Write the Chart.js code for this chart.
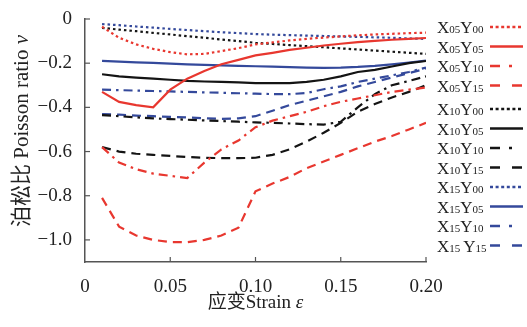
<!DOCTYPE html>
<html>
<head>
<meta charset="utf-8">
<script src="https://cdn.jsdelivr.net/npm/chart.js@4/dist/chart.umd.min.js"></script>
<style>
  body { margin: 0; background: #fff; }
</style>
</head>
<body>
<canvas id="chart" width="527" height="327"></canvas>
<script>
// data
const strain = [0.01, 0.02, 0.03, 0.04, 0.05, 0.06, 0.07, 0.08, 0.09, 0.10,
                0.11, 0.12, 0.13, 0.14, 0.15, 0.16, 0.17, 0.18, 0.19, 0.20];

const seriesNames = ["X05Y00", "X05Y05", "X05Y10", "X05Y15",
                     "X10Y00", "X10Y05", "X10Y10", "X10Y15",
                     "X15Y00", "X15Y05", "X15Y10", "X15 Y15"];

const x05y00 = [-0.035, -0.085, -0.115, -0.135, -0.15, -0.16, -0.158, -0.145, -0.132, -0.115,
                -0.106, -0.097, -0.09, -0.084, -0.079, -0.074, -0.07, -0.067, -0.064, -0.062];
const x05y05 = [-0.33, -0.375, -0.39, -0.40, -0.32, -0.27, -0.235, -0.205, -0.185, -0.165,
                -0.153, -0.14, -0.13, -0.12, -0.112, -0.105, -0.099, -0.094, -0.09, -0.086];
const x05y10 = [-0.58, -0.65, -0.68, -0.70, -0.71, -0.72, -0.65, -0.59, -0.55, -0.49,
                -0.46, -0.44, -0.42, -0.395, -0.375, -0.36, -0.345, -0.33, -0.32, -0.31];
const x05y15 = [-0.81, -0.94, -0.98, -1.00, -1.01, -1.01, -1.00, -0.98, -0.945, -0.78,
                -0.745, -0.715, -0.675, -0.645, -0.615, -0.585, -0.555, -0.53, -0.50, -0.47];

const x10y00 = [-0.04, -0.048, -0.055, -0.063, -0.07, -0.078, -0.085, -0.093, -0.10, -0.108,
                -0.113, -0.118, -0.123, -0.128, -0.133, -0.138, -0.143, -0.148, -0.153, -0.158];
const x10y05 = [-0.25, -0.26, -0.265, -0.27, -0.275, -0.28, -0.283, -0.285, -0.287, -0.29,
                -0.29, -0.29, -0.285, -0.275, -0.26, -0.24, -0.23, -0.215, -0.20, -0.19];
const x10y10 = [-0.435, -0.44, -0.445, -0.45, -0.453, -0.456, -0.459, -0.462, -0.465, -0.468,
                -0.47, -0.473, -0.476, -0.478, -0.465, -0.40, -0.34, -0.30, -0.28, -0.26];
const x10y15 = [-0.58, -0.60, -0.61, -0.615, -0.62, -0.625, -0.628, -0.63, -0.63, -0.628,
                -0.615, -0.59, -0.555, -0.515, -0.47, -0.42, -0.385, -0.355, -0.33, -0.30];

const x15y00 = [-0.023, -0.028, -0.034, -0.039, -0.045, -0.05, -0.055, -0.06, -0.064, -0.068,
                -0.071, -0.073, -0.075, -0.077, -0.079, -0.081, -0.083, -0.085, -0.088, -0.09];
const x15y05 = [-0.19, -0.193, -0.196, -0.199, -0.202, -0.205, -0.208, -0.21, -0.212, -0.214,
                -0.216, -0.218, -0.22, -0.221, -0.22, -0.217, -0.212, -0.205, -0.197, -0.188];
const x15y10 = [-0.32, -0.322, -0.324, -0.326, -0.328, -0.33, -0.332, -0.334, -0.336, -0.338,
                -0.34, -0.34, -0.335, -0.318, -0.305, -0.285, -0.27, -0.255, -0.24, -0.22];
const x15y15 = [-0.43, -0.433, -0.437, -0.44, -0.443, -0.446, -0.449, -0.452, -0.45, -0.44,
                -0.415, -0.39, -0.37, -0.35, -0.33, -0.305, -0.285, -0.265, -0.245, -0.225];

const xTicks = [0, 0.05, 0.10, 0.15, 0.20];
const yTicks = [0, -0.2, -0.4, -0.6, -0.8, -1.0];

// styles
const RED = "#e8372f", BLACK = "#141414", BLUE = "#34499b";
const dash = { dot: [2.5, 3], solid: [], dashdot: [9, 5, 2.5, 5], dashed: [9, 6] };
const legendDash = { dot: [3, 2.6], solid: [], dashdot: [10, 9, 3, 30], dashed: [10, 12] };
const kinds = ["dot", "solid", "dashdot", "dashed"];
const colors = [RED, BLACK, BLUE];

const allSeries = [x05y00, x05y05, x05y10, x05y15,
                   x10y00, x10y05, x10y10, x10y15,
                   x15y00, x15y05, x15y10, x15y15];

const datasets = allSeries.map((vals, i) => {
  const kind = kinds[i % 4];
  return {
    label: seriesNames[i],
    data: vals.map((v, j) => ({ x: strain[j], y: v })),
    borderColor: colors[Math.floor(i / 4)],
    borderWidth: 2.2,
    borderDash: dash[kind],
    kind: kind,
    pointRadius: 0,
    fill: false,
    tension: 0
  };
});

const SERIF = "'Liberation Serif', 'Times New Roman', serif";
const CJK = "'Liberation Serif', 'Noto Sans CJK SC', serif";

// axis titles, inner ticks and the side legend
const extras = {
  id: "extras",
  afterDraw(chart) {
    const c = chart.ctx;
    const xs = chart.scales.x, ys = chart.scales.y;
    const area = chart.chartArea;

    c.save();
    c.strokeStyle = "#555";
    c.lineWidth = 1.2;
    c.setLineDash([]);
    xTicks.forEach(v => {
      if (v === 0) return;
      const px = xs.getPixelForValue(v);
      c.beginPath(); c.moveTo(px, area.bottom); c.lineTo(px, area.bottom - 5); c.stroke();
    });
    yTicks.forEach(v => {
      const py = ys.getPixelForValue(v);
      c.beginPath(); c.moveTo(area.left, py); c.lineTo(area.left + 5, py); c.stroke();
    });

    // x title
    c.fillStyle = "#222";
    c.textBaseline = "middle";
    c.textAlign = "left";
    const t1 = "应变Strain ";
    c.font = "19px " + CJK;
    const w1 = c.measureText(t1).width;
    c.font = "italic 19px " + SERIF;
    const w2 = c.measureText("ε").width;
    const sx = (area.left + area.right) / 2 - (w1 + w2) / 2;
    c.font = "19px " + CJK;
    c.fillText(t1, sx, 303);
    c.font = "italic 19px " + SERIF;
    c.fillText("ε", sx + w1, 303);

    // y title
    c.save();
    c.translate(22, 131);
    c.rotate(-Math.PI / 2);
    const t3 = "泊松比 Poisson ratio ";
    c.font = "21px " + CJK;
    const w3 = c.measureText(t3).width;
    c.font = "italic 21px " + SERIF;
    const w4 = c.measureText("ν").width;
    const sy = -(w3 + w4) / 2;
    c.font = "21px " + CJK;
    c.fillText(t3, sy, 0);
    c.font = "italic 21px " + SERIF;
    c.fillText("ν", sy + w3, 0);
    c.restore();

    // legend
    chart.data.datasets.forEach((ds, i) => {
      const y = 27 + i * 19.5 + (i >= 4 ? 4 : 0);
      let x = 437;
      c.textBaseline = "alphabetic";
      c.fillStyle = "#222";
      for (const ch of ds.label) {
        if (ch === " ") { x += 3; continue; }
        const big = /[A-Z]/.test(ch);
        c.font = (big ? "17px " : "11px ") + SERIF;
        c.fillText(ch, x, y + 6);
        x += c.measureText(ch).width;
      }
      c.strokeStyle = ds.borderColor;
      c.lineWidth = 2.4;
      c.setLineDash(legendDash[ds.kind]);
      c.beginPath(); c.moveTo(490, y); c.lineTo(523, y); c.stroke();
    });
    c.restore();
  }
};

const ctx = document.getElementById("chart");

new Chart(ctx, {
  type: "line",
  data: { datasets: datasets },
  options: {
    responsive: false,
    animation: false,
    layout: { padding: { top: 19, right: 101, left: 0, bottom: 0 } },
    plugins: {
      legend: { display: false },
      tooltip: { enabled: false }
    },
    scales: {
      x: {
        type: "linear",
        min: 0,
        max: 0.2,
        afterBuildTicks: s => { s.ticks = xTicks.map(v => ({ value: v })); },
        afterFit: s => { s.height = 65; },
        grid: { display: false },
        border: { display: true, color: "#555", width: 1.5 },
        ticks: {
          padding: 6,
          color: "#222",
          font: { family: SERIF, size: 19 },
          maxRotation: 0,
          callback: v => v === 0 ? "0" : v.toFixed(2)
        }
      },
      y: {
        type: "linear",
        min: -1.1,
        max: 0,
        afterBuildTicks: s => { s.ticks = yTicks.map(v => ({ value: v })); },
        afterFit: s => { s.width = 85; },
        grid: { display: false },
        border: { display: true, color: "#555", width: 1.5 },
        ticks: {
          padding: 5,
          color: "#222",
          font: { family: SERIF, size: 19 },
          callback: v => v === 0 ? "0" : "\u2212" + Math.abs(v).toFixed(1)
        }
      }
    }
  },
  plugins: [extras]
});
</script>
</body>
</html>
